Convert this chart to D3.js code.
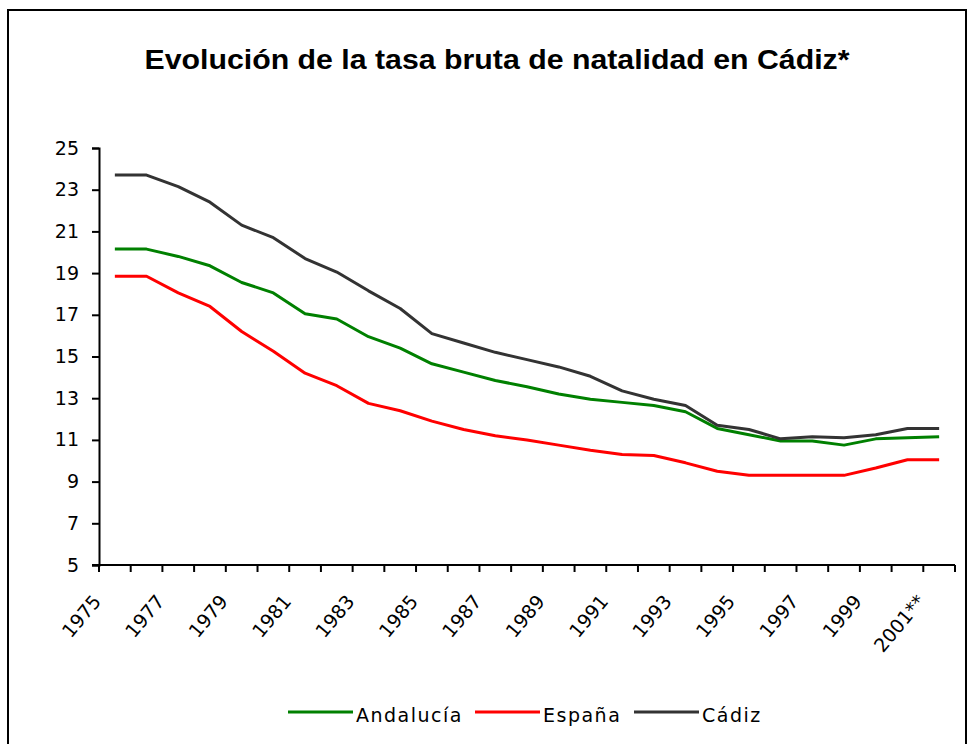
<!DOCTYPE html>
<html>
<head>
<meta charset="utf-8">
<script src="https://cdn.jsdelivr.net/npm/d3@7"></script>
<style>
    body { margin: 0; background: #ffffff; }
    svg { display: block; font-family: "DejaVu Sans", Verdana, sans-serif; }
</style>
</head>
<body>
<div id="chart-container"></div>
<script>
// data
var years = ["1975", "1976", "1977", "1978", "1979", "1980", "1981", "1982", "1983",
    "1984", "1985", "1986", "1987", "1988", "1989", "1990", "1991", "1992", "1993",
    "1994", "1995", "1996", "1997", "1998", "1999", "2000", "2001"];
var yearLabels = ["1975", "", "1977", "", "1979", "", "1981", "", "1983", "", "1985", "",
    "1987", "", "1989", "", "1991", "", "1993", "", "1995", "", "1997", "", "1999", "", "2001**"];
var andalucia = [20.15, 20.15, 19.8, 19.35, 18.55, 18.05, 17.05, 16.8, 15.95, 15.4, 14.65,
    14.25, 13.85, 13.55, 13.2, 12.95, 12.8, 12.65, 12.35, 11.55, 11.25, 10.95, 10.95,
    10.75, 11.05, 11.1, 11.15];
var espana = [18.85, 18.85, 18.05, 17.4, 16.2, 15.25, 14.2, 13.6, 12.75, 12.4, 11.9,
    11.5, 11.2, 11.0, 10.75, 10.5, 10.3, 10.25, 9.9, 9.5, 9.3, 9.3, 9.3, 9.3, 9.65,
    10.05, 10.05];
var cadiz = [23.7, 23.7, 23.15, 22.4, 21.3, 20.7, 19.7, 19.05, 18.15, 17.3, 16.1,
    15.65, 15.2, 14.85, 14.5, 14.05, 13.35, 12.95, 12.65, 11.7, 11.5, 11.05, 11.15,
    11.1, 11.25, 11.55, 11.55];
var yTicks = [5, 7, 9, 11, 13, 15, 17, 19, 21, 23, 25];

var series = [
    { name: "Andalucía", values: andalucia, color: "#008000" },
    { name: "España", values: espana, color: "#ff0000" },
    { name: "Cádiz", values: cadiz, color: "#333333" }
];

var width = 973;
var height = 744;

var svg = d3.select("#chart-container")
    .append("svg")
    .attr("width", width)
    .attr("height", height);

// outer frame of the chart
svg.append("rect")
    .attr("x", 8)
    .attr("y", 10)
    .attr("width", 958)
    .attr("height", 760)
    .attr("fill", "none")
    .attr("stroke", "#000")
    .attr("stroke-width", 2);

// title
svg.append("text")
    .attr("x", 497)
    .attr("y", 69)
    .attr("text-anchor", "middle")
    .attr("textLength", 705)
    .attr("lengthAdjust", "spacingAndGlyphs")
    .style("font-family", "'Liberation Sans', Arial, sans-serif")
    .style("font-size", "28px")
    .style("font-weight", "bold")
    .text("Evolución de la tasa bruta de natalidad en Cádiz*");

var xScale = d3.scaleBand()
    .domain(years)
    .range([99, 955])
    .padding(0);

var yScale = d3.scaleLinear()
    .domain([5, 25])
    .range([565, 148]);

// y axis
var yAxis = svg.append("g")
    .attr("transform", "translate(99,0)")
    .call(d3.axisLeft(yScale).tickValues(yTicks).tickSize(7).tickPadding(13));
yAxis.select(".domain").attr("stroke-width", 2);
yAxis.selectAll(".tick line").attr("stroke-width", 2);
yAxis.selectAll("text")
    .style("font-family", "'DejaVu Sans', Verdana, sans-serif")
    .style("font-size", "19px")
    .attr("fill", "#000");

// x axis, ticks between the categories
var xAxis = svg.append("g")
    .attr("transform", "translate(0,565)");
xAxis.append("line")
    .attr("x1", 92)
    .attr("x2", 955)
    .attr("stroke", "#000")
    .attr("stroke-width", 2);
xAxis.selectAll("line.tick")
    .data(years.concat(["end"]))
    .enter()
    .append("line")
    .attr("class", "tick")
    .attr("x1", function (d) { return d === "end" ? 955 : xScale(d); })
    .attr("x2", function (d) { return d === "end" ? 955 : xScale(d); })
    .attr("y1", 0)
    .attr("y2", 7)
    .attr("stroke", "#000")
    .attr("stroke-width", 2);

// rotated year labels
xAxis.selectAll("text")
    .data(years)
    .enter()
    .append("text")
    .attr("transform", function (d) {
        return "translate(" + (xScale(d) + 3) + ",37) rotate(-50)";
    })
    .attr("text-anchor", "end")
    .style("font-size", "19px")
    .text(function (d, i) { return yearLabels[i]; });

// series lines
var line = d3.line()
    .x(function (d, i) { return xScale(years[i]) + xScale.bandwidth() / 2; })
    .y(function (d) { return yScale(d); });

svg.selectAll("path.series")
    .data(series)
    .enter()
    .append("path")
    .attr("class", "series")
    .attr("d", function (d) { return line(d.values); })
    .attr("fill", "none")
    .attr("stroke", function (d) { return d.color; })
    .attr("stroke-width", 3)
    .attr("stroke-linejoin", "round");

// legend
var legendX = [288, 475, 634];
var legend = svg.selectAll("g.legend")
    .data(series)
    .enter()
    .append("g")
    .attr("class", "legend")
    .attr("transform", function (d, i) { return "translate(" + legendX[i] + ",712)"; });

legend.append("line")
    .attr("x1", 0)
    .attr("x2", 65)
    .attr("stroke", function (d) { return d.color; })
    .attr("stroke-width", 3);

legend.append("text")
    .attr("x", 68)
    .attr("y", 10)
    .style("font-size", "19px")
    .style("letter-spacing", "1.5px")
    .text(function (d) { return d.name; });
</script>
</body>
</html>
